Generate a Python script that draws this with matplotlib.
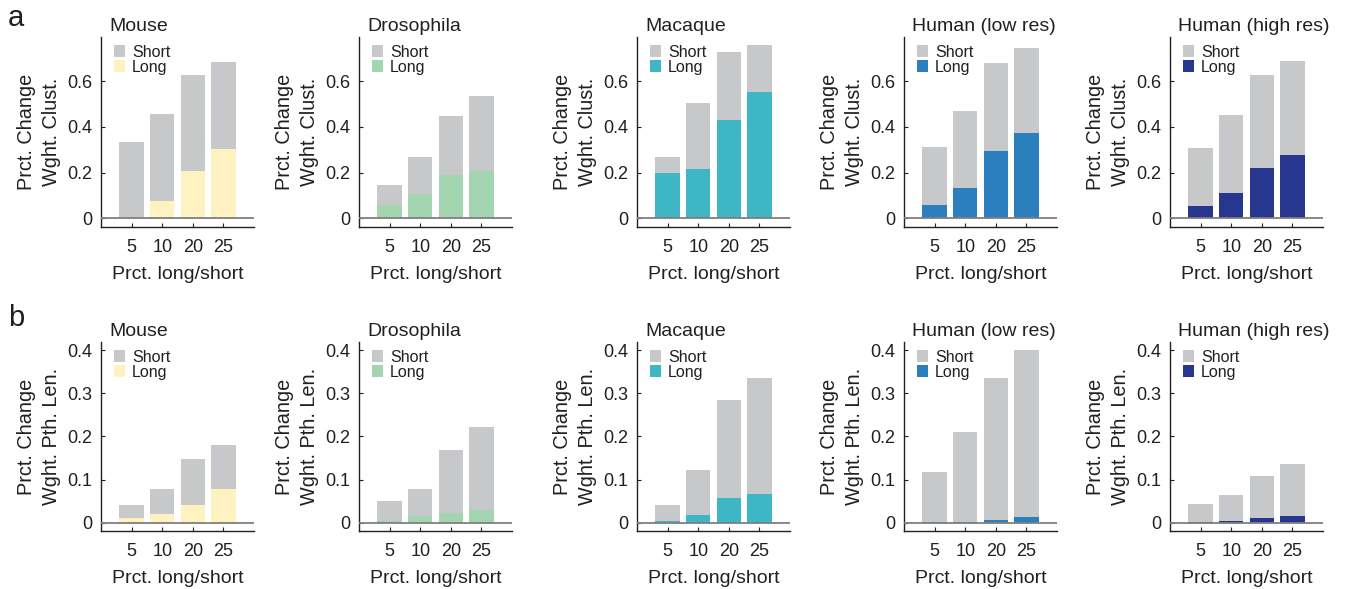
import matplotlib
matplotlib.use("Agg")
from matplotlib import pyplot as plt
import numpy as np

plt.rcParams["font.family"] = ["Liberation Sans", "DejaVu Sans"]

# data
species = ["Mouse", "Drosophila", "Macaque", "Human (low res)", "Human (high res)"]
pct_labels = ["5", "10", "20", "25"]

# row a: weighted clustering
clust_short = [
    [0.333, 0.455, 0.626, 0.683],
    [0.145, 0.267, 0.447, 0.534],
    [0.267, 0.504, 0.727, 0.758],
    [0.311, 0.469, 0.679, 0.745],
    [0.307, 0.451, 0.626, 0.688],
]
clust_long = [
    [0.0, 0.074, 0.206, 0.302],
    [0.057, 0.106, 0.188, 0.206],
    [0.197, 0.215, 0.429, 0.552],
    [0.057, 0.131, 0.293, 0.372],
    [0.053, 0.109, 0.219, 0.276],
]

# row b: weighted path length
path_short = [
    [0.041, 0.078, 0.148, 0.180],
    [0.050, 0.078, 0.168, 0.222],
    [0.041, 0.122, 0.284, 0.335],
    [0.117, 0.210, 0.335, 0.400],
    [0.043, 0.064, 0.108, 0.136],
]
path_long = [
    [0.011, 0.020, 0.041, 0.078],
    [0.004, 0.015, 0.022, 0.030],
    [0.004, 0.018, 0.057, 0.066],
    [0.002, 0.002, 0.006, 0.013],
    [0.002, 0.004, 0.011, 0.015],
]

long_colors = ["#fdf2c0", "#a2d5b0", "#3fb6c4", "#2a7fbc", "#27368f"]
short_color = "#c7c8ca"

W, H = 1349, 589
fig = plt.figure(figsize=(W / 100, H / 100), dpi=100)

lefts = [101, 359, 637, 904, 1170]
ax_w = 153
rows = [
    dict(top=37, bottom=227, short=clust_short, long=clust_long,
         ylim=(-0.038, 0.793), yticks=[0, 0.2, 0.4, 0.6],
         yticklabels=["0", "0.2", "0.4", "0.6"],
         ylabel="Prct. Change\nWght. Clust."),
    dict(top=342, bottom=531, short=path_short, long=path_long,
         ylim=(-0.019, 0.419), yticks=[0, 0.1, 0.2, 0.3, 0.4],
         yticklabels=["0", "0.1", "0.2", "0.3", "0.4"],
         ylabel="Prct. Change\nWght. Pth. Len."),
]

x = np.arange(1, 5)
txt = "#231f20"

for r in rows:
    for i, name in enumerate(species):
        ax = fig.add_axes([lefts[i] / W, 1 - r["bottom"] / H,
                           ax_w / W, (r["bottom"] - r["top"]) / H])
        ax.bar(x, r["short"][i], width=0.8, color=short_color, label="Short")
        ax.bar(x, r["long"][i], width=0.8, color=long_colors[i], label="Long")
        ax.axhline(0, color="#7f7f7f", lw=1.3, zorder=3)

        ax.set_xlim(0, 5)
        ax.set_ylim(*r["ylim"])
        ax.set_xticks(x)
        ax.set_xticklabels(pct_labels)
        ax.set_yticks(r["yticks"])
        ax.set_yticklabels(r["yticklabels"])
        ax.tick_params(direction="in", length=3, width=0.8, labelsize=13,
                       colors=txt)
        ax.tick_params(axis="x", pad=9)
        ax.tick_params(axis="y", pad=6)

        for s in ["top", "right"]:
            ax.spines[s].set_visible(False)
        for s in ["left", "bottom"]:
            ax.spines[s].set_linewidth(1.0)
            ax.spines[s].set_color(txt)

        ax.set_xlabel("Prct. long/short", fontsize=14, color=txt, labelpad=7)
        ax.set_ylabel(r["ylabel"], fontsize=14.3, color=txt, labelpad=5,
                      linespacing=1.38)
        ax.text(0.052, 1.012, name, transform=ax.transAxes, ha="left",
                va="bottom", fontsize=14, color=txt)

        leg = ax.legend(loc="upper left", bbox_to_anchor=(0.04, 0.994),
                        frameon=False, fontsize=11.5, handlelength=0.75,
                        handleheight=0.75, handletextpad=0.4,
                        labelspacing=0.0, borderaxespad=0.2,
                        borderpad=0.2)
        for t in leg.get_texts():
            t.set_color(txt)

fig.text(8 / W, 1 - 18 / H, "a", fontsize=21, va="center", ha="left", color=txt)
fig.text(8 / W, 1 - 318 / H, "b", fontsize=21, va="center", ha="left", color=txt)

fig.savefig("out.png", dpi=100)
